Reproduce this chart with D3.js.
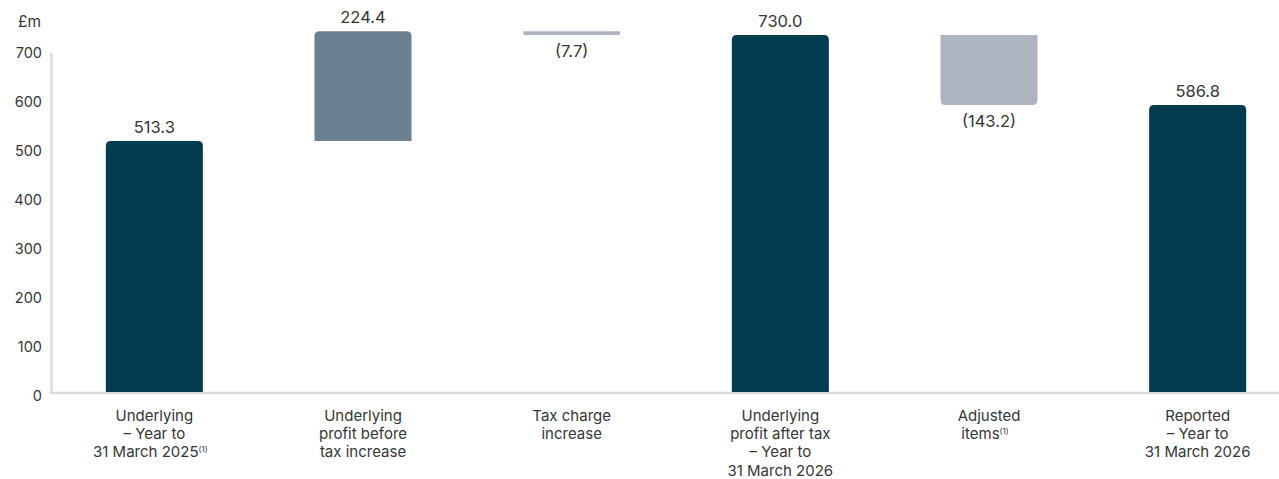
<!DOCTYPE html>
<html>
<head>
<meta charset="utf-8">
<script src="https://cdn.jsdelivr.net/npm/d3@7"></script>
<style>
  body { margin: 0; background: #fff; }
  text { font-family: Inter, "Noto Sans", sans-serif; fill: #363636; }
</style>
</head>
<body>
<script>
// Profit bridge, £m
const width = 1279;
const height = 479;

// The data
const categories = ['c1', 'c2', 'c3', 'c4', 'c5', 'c6'];
const labelLines = [
  ['Underlying', '\u2013 Year to', '31 March 2025'],
  ['Underlying', 'profit before', 'tax increase'],
  ['Tax charge', 'increase'],
  ['Underlying', 'profit after tax', '\u2013 Year to', '31 March 2026'],
  ['Adjusted', 'items'],
  ['Reported', '\u2013 Year to', '31 March 2026']
];
const footnoted = [true, false, false, false, true, false];
const values = [513.3, 224.4, -7.7, 730.0, -143.2, 586.8];
const kinds = ['total', 'delta', 'delta', 'total', 'delta', 'total'];
const yTicks = [0, 100, 200, 300, 400, 500, 600, 700];

// colours
const cTotal = '#033c4f';
const cUp = '#6b8091';
const cDown = '#adb4bf';
const cAxis = '#dcdcd8';

// work out bar start/end for the waterfall
var running = 0;
const bars = values.map(function(v, i) {
  var from, to;
  if (kinds[i] === 'total') {
    from = 0; to = v; running = v;
  } else {
    from = running; to = running + v; running = to;
  }
  return { key: categories[i], v: v, kind: kinds[i], lo: Math.min(from, to), hi: Math.max(from, to) };
});

var svg = d3.select('body').append('svg')
  .attr('width', width)
  .attr('height', height);

const x = d3.scaleBand()
  .domain(categories)
  .range([50, 1302])
  .paddingInner(0.535)
  .paddingOuter(0.2675);

const y = d3.scaleLinear()
  .domain([0, 700])
  .range([392, 49.6]);

// y axis labels
svg.append('text')
  .attr('x', 18)
  .attr('y', 27)
  .style('font-size', '15.5px')
  .text('\u00a3m');

svg.selectAll('.ytick')
  .data(yTicks)
  .enter().append('text')
  .attr('class', 'ytick')
  .attr('x', 42)
  .attr('y', function(d) { return y(d) + 3.5; })
  .attr('dy', '0.35em')
  .style('font-size', '14.5px')
  .style('text-anchor', 'end')
  .text(function(d) { return d; });

// axis lines
svg.append('line')
  .attr('x1', 51.5).attr('x2', 51.5)
  .attr('y1', 53).attr('y2', y(0))
  .style('stroke', cAxis).style('stroke-width', 2.5);

svg.append('line')
  .attr('x1', 50).attr('x2', width)
  .attr('y1', y(0) + 1).attr('y2', y(0) + 1)
  .style('stroke', cAxis).style('stroke-width', 2.5);

// rounded on one end only
function barPath(x0, w, top, bottom, roundTop) {
  var r = Math.min(5, (bottom - top) / 2, w / 2);
  if (roundTop) {
    return 'M' + x0 + ',' + bottom +
      'V' + (top + r) +
      'Q' + x0 + ',' + top + ' ' + (x0 + r) + ',' + top +
      'H' + (x0 + w - r) +
      'Q' + (x0 + w) + ',' + top + ' ' + (x0 + w) + ',' + (top + r) +
      'V' + bottom + 'Z';
  }
  return 'M' + x0 + ',' + top +
    'V' + (bottom - r) +
    'Q' + x0 + ',' + bottom + ' ' + (x0 + r) + ',' + bottom +
    'H' + (x0 + w - r) +
    'Q' + (x0 + w) + ',' + bottom + ' ' + (x0 + w) + ',' + (bottom - r) +
    'V' + top + 'Z';
}

svg.selectAll('.bar')
  .data(bars)
  .enter().append('path')
  .attr('class', 'bar')
  .attr('d', function(d) {
    return barPath(x(d.key), x.bandwidth(), y(d.hi), y(d.lo), d.v >= 0);
  })
  .style('fill', function(d) {
    if (d.kind === 'total') return cTotal;
    return d.v >= 0 ? cUp : cDown;
  });

// value labels
svg.selectAll('.val')
  .data(bars)
  .enter().append('text')
  .attr('class', 'val')
  .attr('x', function(d) { return x(d.key) + x.bandwidth() / 2; })
  .attr('y', function(d) { return d.v >= 0 ? y(d.hi) - 8 : y(d.lo) + 22; })
  .style('font-size', '16.5px')
  .style('text-anchor', 'middle')
  .text(function(d) {
    var s = Math.abs(d.v).toFixed(1);
    return d.v < 0 ? '(' + s + ')' : s;
  });

// category labels
var cat = svg.selectAll('.cat')
  .data(categories)
  .enter().append('text')
  .attr('class', 'cat')
  .style('font-size', '15px')
  .style('text-anchor', 'middle')
  .attr('transform', function(d) { return 'translate(' + (x(d) + x.bandwidth() / 2) + ',421)'; });

cat.each(function(d, i) {
  var t = d3.select(this);
  var lines = labelLines[i];
  lines.forEach(function(line, j) {
    var last = j === lines.length - 1;
    t.append('tspan')
      .attr('x', last && footnoted[i] ? -4 : 0)
      .attr('y', j * 18.2)
      .text(line);
    if (last && footnoted[i]) {
      t.append('tspan')
        .attr('dy', -5)
        .style('font-size', '8px')
        .text('(1)');
    }
  });
});
</script>
</body>
</html>
